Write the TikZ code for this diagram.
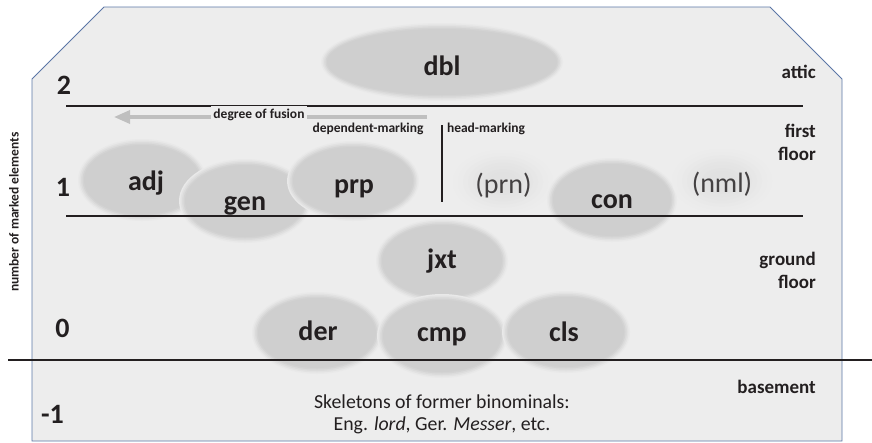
\documentclass[tikz,border=0pt]{standalone}
\usepackage{fontspec}
\setmainfont{Carlito}
\usetikzlibrary{arrows.meta}
\definecolor{bg}{HTML}{EDEDED}
\definecolor{ell}{HTML}{CFCFCF}
\definecolor{halo}{HTML}{DCDCDC}
\definecolor{framec}{HTML}{5B76A6}
\definecolor{arrc}{HTML}{BFBFBF}
\definecolor{ink}{HTML}{231F20}
\newcommand\myblob[5]{% x, y, rx, ry, colour
  \fill[#5!15!bg] (#1,#2) ellipse [x radius=#3pt+6pt, y radius=#4pt+6pt];
  \fill[#5!35!bg] (#1,#2) ellipse [x radius=#3pt+4.5pt, y radius=#4pt+4.5pt];
  \fill[#5!60!bg] (#1,#2) ellipse [x radius=#3pt+3pt, y radius=#4pt+3pt];
  \fill[#5!85!bg] (#1,#2) ellipse [x radius=#3pt+1.5pt, y radius=#4pt+1.5pt];
  \fill[#5] (#1,#2) ellipse [x radius=#3pt, y radius=#4pt];
}
\newcommand\myhalo[4]{% x, y, rx, ry
  \foreach \k/\c in {1.0/6,0.9/14,0.8/24,0.7/34,0.6/44,0.5/54,0.4/62,0.3/68}{
    \fill[halo!\c!bg] (#1,#2) ellipse [x radius=#3pt*\k, y radius=#4pt*\k];
  }
}
\tikzset{
  lab/.style={font=\fontsize{28}{30}\selectfont\bfseries, text=ink, anchor=base, inner sep=0pt},
  plab/.style={font=\fontsize{28}{30}\selectfont, text=ink!85, anchor=base, inner sep=0pt},
  num/.style={font=\fontsize{28}{30}\selectfont\bfseries, text=ink, anchor=base, inner sep=0pt},
  floorlab/.style={font=\fontsize{19}{23}\selectfont\bfseries, text=ink, anchor=base east, inner sep=0pt, align=right},
  small/.style={font=\fontsize{13.5}{15}\selectfont\bfseries, text=ink, anchor=base, inner sep=0pt},
  level/.style={line width=1.6pt, draw=ink},
}
\begin{document}
\begin{tikzpicture}[x=1pt,y=-1pt]
\useasboundingbox (0,0) rectangle (872,442);
% frame
\filldraw[fill=bg, draw=framec, line width=0.9pt]
  (104,7) -- (770,7) -- (842,79) -- (842,441) -- (32,441) -- (32,79) -- cycle;
% blobs
\myblob{442}{62}{115}{33}{ell}
\myblob{142}{180}{58}{35}{ell}
\myblob{245}{201}{60}{36}{ell}
\myblob{353}{181}{60}{34}{ell}
\myhalo{503}{182}{50}{32}
\myblob{612}{200}{59}{36}{ell}
\myhalo{722}{181}{50}{32}
\myblob{442}{261}{60}{36}{ell}
\myblob{317}{333}{59}{35}{ell}
\myblob{442}{336}{59}{36}{ell}
\myblob{566}{332}{58}{35}{ell}
% level lines
\coordinate (l1a) at (66,106); \coordinate (l1b) at (803,106);
\coordinate (l2a) at (66,216); \coordinate (l2b) at (803,216);
\coordinate (l3a) at (8,360);  \coordinate (l3b) at (872,360);
\draw[level] (l1a) -- (l1b);
\draw[level] (l2a) -- (l2b);
\draw[level] (l3a) -- (l3b);
% divider
\coordinate (va) at (442,125); \coordinate (vb) at (442,202);
\draw[line width=1.4pt, draw=ink] (va) -- (vb);
% degree of fusion arrow
\coordinate (fa) at (427,117); \coordinate (fb) at (114,117);
\draw[draw=arrc, line width=3.4pt, -{Triangle[length=16pt,width=13pt]}] (fa) -- (fb);
\node[small, fill=bg, inner xsep=2pt, inner ysep=3pt] (fus) at (259,118) {degree of fusion};
\node[small] (dep) at (368,132) {dependent-marking};
\node[small] (head) at (486,132) {head-marking};
% labels
\node[lab] (dbl) at (442,75) {dbl};
\node[lab] (adj) at (146,190) {adj};
\node[lab] (gen) at (245,210.5) {gen};
\node[lab] (prp) at (354,193) {prp};
\node[plab] (prn) at (503.5,193) {(prn)};
\node[lab] (con) at (612,208) {con};
\node[plab] (nml) at (722,192) {(nml)};
\node[lab] (jxt) at (442,268) {jxt};
\node[lab] (der) at (318,340) {der};
\node[lab] (cmp) at (442,341) {cmp};
\node[lab] (cls) at (564,341.5) {cls};
% numbers
\node[num] (n2) at (64,94) {2};
\node[num] (n1) at (63,196.5) {1};
\node[num] (n0) at (62.5,337.5) {0};
\node[num] (nm1) at (52.5,423) {-1};
% floor labels
\node[floorlab] (attic) at (816,78) {attic};
\node[floorlab] (first) at (816,160) {first\\floor};
\node[floorlab] (ground) at (816,288) {ground\\floor};
\node[floorlab] (base) at (816,393) {basement};
% axis label
\node[font=\fontsize{13.5}{15}\selectfont\bfseries, text=ink, rotate=90, inner sep=0pt] (axis) at (14,212) {number of marked elements};
% basement text
\node[font=\fontsize{19.8}{22}\selectfont, text=ink, anchor=base, inner sep=0pt] (skel1) at (442,408) {Skeletons of former binominals:};
\node[font=\fontsize{19.8}{22}\selectfont, text=ink, anchor=base, inner sep=0pt] (skel2) at (442,430) {Eng. \textit{lord}, Ger. \textit{Messer}, etc.};
\end{tikzpicture}
\end{document}
